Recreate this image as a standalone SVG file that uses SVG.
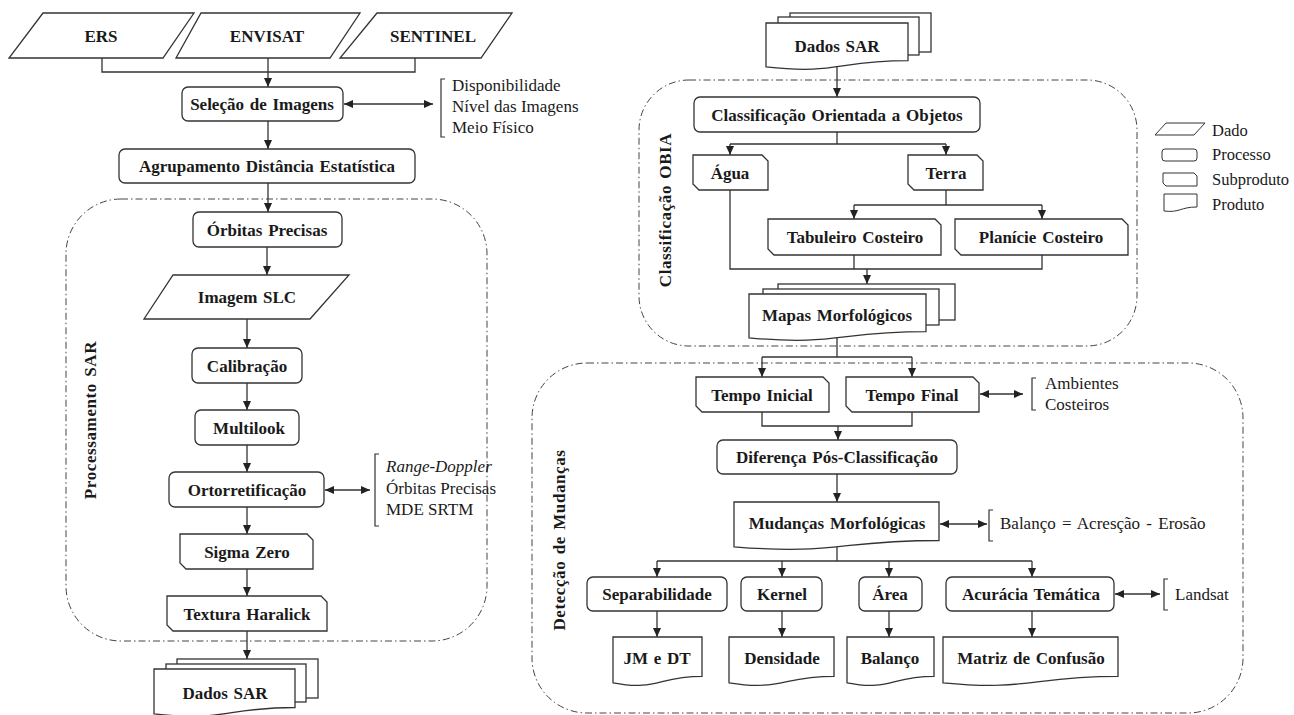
<svg xmlns="http://www.w3.org/2000/svg" width="1294" height="715" viewBox="0 0 1294 715">
<defs>
<marker id="ah" markerUnits="userSpaceOnUse" markerWidth="10" markerHeight="8" refX="9" refY="4" orient="auto-start-reverse">
<path d="M0,0 L9,4 L0,8 Z" fill="#222"/>
</marker>
</defs>
<style>
.box{fill:#fff;stroke:#333;stroke-width:1.3}
.t{font-family:"Liberation Serif","Times New Roman",serif;font-weight:bold;font-size:17px;fill:#1a1a1a;text-anchor:middle;word-spacing:1.5px}
.r{font-size:17px;letter-spacing:0.6px}
.n{font-family:"Liberation Serif","Times New Roman",serif;font-size:17px;fill:#1a1a1a}
.lg{font-size:16.5px}
.c{fill:none;stroke:#333;stroke-width:1.3}
.a{fill:none;stroke:#333;stroke-width:1.3;marker-end:url(#ah)}
.d{fill:none;stroke:#333;stroke-width:1.3;marker-start:url(#ah);marker-end:url(#ah)}
.grp{fill:none;stroke:#444;stroke-width:1;stroke-dasharray:7 3 1.5 3}
.br{fill:none;stroke:#333;stroke-width:1.2}
</style>
<rect width="1294" height="715" fill="#fff"/>

<g id="containers">
<rect id="g-sar" class="grp" x="66" y="199" width="421" height="442" rx="55" ry="55"/>
<text class="t r" transform="rotate(-90 90 420)" x="90" y="426">Processamento SAR</text>
<rect id="g-obia" class="grp" x="639" y="80" width="498" height="266" rx="50" ry="50"/>
<text class="t r" transform="rotate(-90 665 210)" x="665" y="216">Classificação OBIA</text>
<rect id="g-det" class="grp" x="532" y="363" width="711" height="350" rx="55" ry="55"/>
<text class="t r" transform="rotate(-90 559 540)" x="559" y="546">Detecção de Mudanças</text>
</g>

<g id="connectors">
<polyline class="c" points="102,58 102,72 415,72 415,58"/>
<line class="a" x1="268" y1="58" x2="268" y2="87"/>
<line class="d" x1="344" y1="104" x2="433" y2="104"/>
<line class="a" x1="268" y1="121" x2="268" y2="149"/>
<line class="a" x1="268" y1="183" x2="268" y2="212"/>
<line class="a" x1="267" y1="247" x2="267" y2="275"/>
<line class="a" x1="247" y1="319" x2="247" y2="348"/>
<line class="a" x1="247" y1="383" x2="247" y2="410"/>
<line class="a" x1="247" y1="445" x2="247" y2="472"/>
<line class="d" x1="325" y1="490" x2="370" y2="490"/>
<line class="a" x1="247" y1="507" x2="247" y2="534"/>
<line class="a" x1="247" y1="569" x2="247" y2="596"/>
<line class="a" x1="247" y1="631" x2="247" y2="659"/>

<line class="a" x1="837" y1="67" x2="837" y2="97"/>
<polyline class="c" points="837,132 837,144"/>
<polyline class="c" points="730,144 946,144"/>
<line class="a" x1="730" y1="144" x2="730" y2="155"/>
<line class="a" x1="946" y1="144" x2="946" y2="155"/>
<polyline class="c" points="946,190 946,205"/>
<polyline class="c" points="854,205 1042,205"/>
<line class="a" x1="854" y1="205" x2="854" y2="219"/>
<line class="a" x1="1042" y1="205" x2="1042" y2="219"/>
<polyline class="c" points="730,190 730,269 1042,269 1042,255"/>
<polyline class="c" points="854,255 854,269"/>
<line class="a" x1="867" y1="269" x2="867" y2="284"/>
<polyline class="c" points="837,338 837,357"/>
<polyline class="c" points="762,357 912,357"/>
<line class="a" x1="762" y1="357" x2="762" y2="377"/>
<line class="a" x1="912" y1="357" x2="912" y2="377"/>
<line class="d" x1="980" y1="394" x2="1023" y2="394"/>
<polyline class="c" points="762,412 762,426 912,426 912,412"/>
<line class="a" x1="838" y1="426" x2="838" y2="440"/>
<line class="a" x1="837" y1="474" x2="837" y2="502"/>
<line class="d" x1="940" y1="524" x2="987" y2="524"/>
<polyline class="c" points="837,547 837,561"/>
<polyline class="c" points="657,561 1032,561"/>
<line class="a" x1="657" y1="561" x2="657" y2="577"/>
<line class="a" x1="782" y1="561" x2="782" y2="577"/>
<line class="a" x1="889" y1="561" x2="889" y2="577"/>
<line class="a" x1="1032" y1="561" x2="1032" y2="577"/>
<line class="d" x1="1115" y1="594" x2="1160" y2="594"/>
<line class="a" x1="657" y1="611" x2="657" y2="637"/>
<line class="a" x1="782" y1="611" x2="782" y2="637"/>
<line class="a" x1="889" y1="611" x2="889" y2="637"/>
<line class="a" x1="1032" y1="611" x2="1032" y2="637"/>
</g>

<g id="n-ers"><polygon class="box" points="43,13 194,13 163,58 9,58"/><text class="t" x="101" y="41.5">ERS</text></g>
<g id="n-envisat"><polygon class="box" points="201,13 360,13 330,58 176,58"/><text class="t" x="267" y="41.5">ENVISAT</text></g>
<g id="n-sentinel"><polygon class="box" points="377,13 512,13 481,58 340,58"/><text class="t" x="433" y="41.5">SENTINEL</text></g>

<g id="n-selecao"><rect class="box" x="182" y="87" width="161" height="34" rx="6"/><text class="t" x="262" y="110">Seleção de Imagens</text></g>
<g id="b-selecao">
<path class="br" d="M445,79 H441 V137 H445"/>
<text class="n" x="452" y="91">Disponibilidade</text>
<text class="n" x="452" y="112">Nível das Imagens</text>
<text class="n" x="452" y="133">Meio Físico</text>
</g>
<g id="n-agrup"><rect class="box" x="119" y="149" width="296" height="34" rx="6"/><text class="t" x="267" y="172">Agrupamento  Distância Estatística</text></g>
<g id="n-orbitas"><rect class="box" x="193" y="212" width="149" height="35" rx="6"/><text class="t" x="267" y="235.5">Órbitas Precisas</text></g>
<g id="n-slc"><polygon class="box" points="173,275 349,275 310,319 144,319"/><text class="t" x="247" y="303">Imagem SLC</text></g>
<g id="n-calib"><rect class="box" x="192" y="348" width="110" height="35" rx="6"/><text class="t" x="247" y="371.5">Calibração</text></g>
<g id="n-multi"><rect class="box" x="195" y="410" width="104" height="35" rx="6"/><text class="t" x="249" y="433.5">Multilook</text></g>
<g id="n-orto"><rect class="box" x="169" y="472" width="155" height="35" rx="6"/><text class="t" x="247" y="495.5">Ortorretificação</text></g>
<g id="b-orto">
<path class="br" d="M379,454 H375 V526 H379"/>
<text class="n" x="386" y="472" font-style="italic">Range-Doppler</text>
<text class="n" x="386" y="494">Órbitas Precisas</text>
<text class="n" x="386" y="515">MDE SRTM</text>
</g>
<g id="n-sigma"><path class="box" d="M180,534 H307 L313,540 V569 H186 L180,563 Z"/><text class="t" x="247" y="557.5">Sigma Zero</text></g>
<g id="n-textura"><path class="box" d="M167,596 H321 L327,602 V631 H173 L167,625 Z"/><text class="t" x="247" y="619.5">Textura Haralick</text></g>
<g id="n-dados1">
<rect class="box" x="177" y="659" width="141" height="39"/>
<rect class="box" x="166" y="664" width="140" height="38"/>
<path class="box" d="M154,669 H295 V707.5 C224.5,707.5 224.5,722.1 154,713.8 Z"/>
<text class="t" x="225" y="698.5">Dados SAR</text>
</g>

<g id="n-dados2">
<rect class="box" x="790" y="13" width="141" height="39"/>
<rect class="box" x="778" y="17" width="141" height="38"/>
<path class="box" d="M766,23 H908 V60.7 C837,60.7 837,75 766,66.9 Z"/>
<text class="t" x="837" y="52">Dados SAR</text>
</g>
<g id="n-class"><rect class="box" x="694" y="97" width="286" height="35" rx="6"/><text class="t" x="837" y="120.5">Classificação Orientada a Objetos</text></g>
<g id="n-agua"><path class="box" d="M693,155 H762 L768,161 V190 H699 L693,184 Z"/><text class="t" x="730" y="178.5">Água</text></g>
<g id="n-terra"><path class="box" d="M908,155 H977 L983,161 V190 H914 L908,184 Z"/><text class="t" x="946" y="178.5">Terra</text></g>
<g id="n-tab"><path class="box" d="M768,219 H935 L941,225 V255 H774 L768,249 Z"/><text class="t" x="855" y="243">Tabuleiro  Costeiro</text></g>
<g id="n-plan"><path class="box" d="M955,219 H1122 L1128,225 V255 H961 L955,249 Z"/><text class="t" x="1041" y="243">Planície  Costeiro</text></g>
<g id="n-mapas">
<rect class="box" x="778" y="284" width="177" height="36"/>
<rect class="box" x="763" y="289" width="176" height="36"/>
<path class="box" d="M749,294 H926 V331.7 C837.5,331.7 837.5,346 749,337.9 Z"/>
<text class="t" x="837" y="321">Mapas Morfológicos</text>
</g>

<g id="legend">
<polygon class="box" points="1166,123 1205,123 1194,135 1155,135" style="stroke-width:1"/>
<text class="n lg" x="1212" y="136">Dado</text>
<rect class="box" x="1162" y="149" width="35" height="12" rx="3" style="stroke-width:1"/>
<text class="n lg" x="1212" y="160">Processo</text>
<path class="box" d="M1163,173 H1194 L1197,176 V186 H1166 L1163,183 Z" style="stroke-width:1"/>
<text class="n lg" x="1212" y="185">Subproduto</text>
<path class="box" d="M1164,194 H1197 V207 C1180,207 1180,213 1164,211 Z" style="stroke-width:1"/>
<text class="n lg" x="1212" y="210">Produto</text>
</g>

<g id="n-tini"><path class="box" d="M696,377 H823 L829,383 V412 H702 L696,406 Z"/><text class="t" x="762" y="400.5">Tempo  Inicial</text></g>
<g id="n-tfin"><path class="box" d="M846,377 H973 L979,383 V412 H852 L846,406 Z"/><text class="t" x="912" y="400.5">Tempo  Final</text></g>
<g id="b-amb">
<path class="br" d="M1036,378 H1032 V410 H1036"/>
<text class="n" x="1045" y="389">Ambientes</text>
<text class="n" x="1045" y="410">Costeiros</text>
</g>
<g id="n-dif"><rect class="box" x="717" y="440" width="240" height="34" rx="6"/><text class="t" x="837" y="463">Diferença Pós-Classificação</text></g>
<g id="n-mud"><path class="box" d="M734,502 H939 V540.5 C836.5,540.5 836.5,555.1 734,546.8 Z"/><text class="t" x="837" y="528.5">Mudanças Morfológicas</text></g>
<g id="b-bal">
<path class="br" d="M993,510 H989 V541 H993"/>
<text class="n" x="1000" y="529" style="word-spacing:2px">Balanço = Acresção - Erosão</text>
</g>
<g id="n-sep"><rect class="box" x="587" y="577" width="140" height="34" rx="6"/><text class="t" x="657" y="600">Separabilidade</text></g>
<g id="n-kernel"><rect class="box" x="741" y="577" width="81" height="34" rx="6"/><text class="t" x="782" y="600">Kernel</text></g>
<g id="n-area"><rect class="box" x="859" y="577" width="63" height="34" rx="6"/><text class="t" x="890" y="600">Área</text></g>
<g id="n-acur"><rect class="box" x="946" y="577" width="168" height="34" rx="6"/><text class="t" x="1031" y="600">Acurácia  Temática</text></g>
<g id="b-land">
<path class="br" d="M1168,579 H1164 V610 H1168"/>
<text class="n" x="1175" y="600">Landsat</text>
</g>
<g id="n-jm"><path class="box" d="M613,637 H702 V676.3 C657.5,676.3 657.5,691.2 613,682.8 Z"/><text class="t" x="657" y="663.5">JM e DT</text></g>
<g id="n-dens"><path class="box" d="M729,637 H834 V676.3 C781.5,676.3 781.5,691.2 729,682.8 Z"/><text class="t" x="782" y="663.5">Densidade</text></g>
<g id="n-bal"><path class="box" d="M847,637 H934 V676.3 C890.5,676.3 890.5,691.2 847,682.8 Z"/><text class="t" x="890" y="663.5">Balanço</text></g>
<g id="n-matriz"><path class="box" d="M943,637 H1118 V676.3 C1030.5,676.3 1030.5,691.2 943,682.8 Z"/><text class="t" x="1031" y="663.5">Matriz de Confusão</text></g>
</svg>
